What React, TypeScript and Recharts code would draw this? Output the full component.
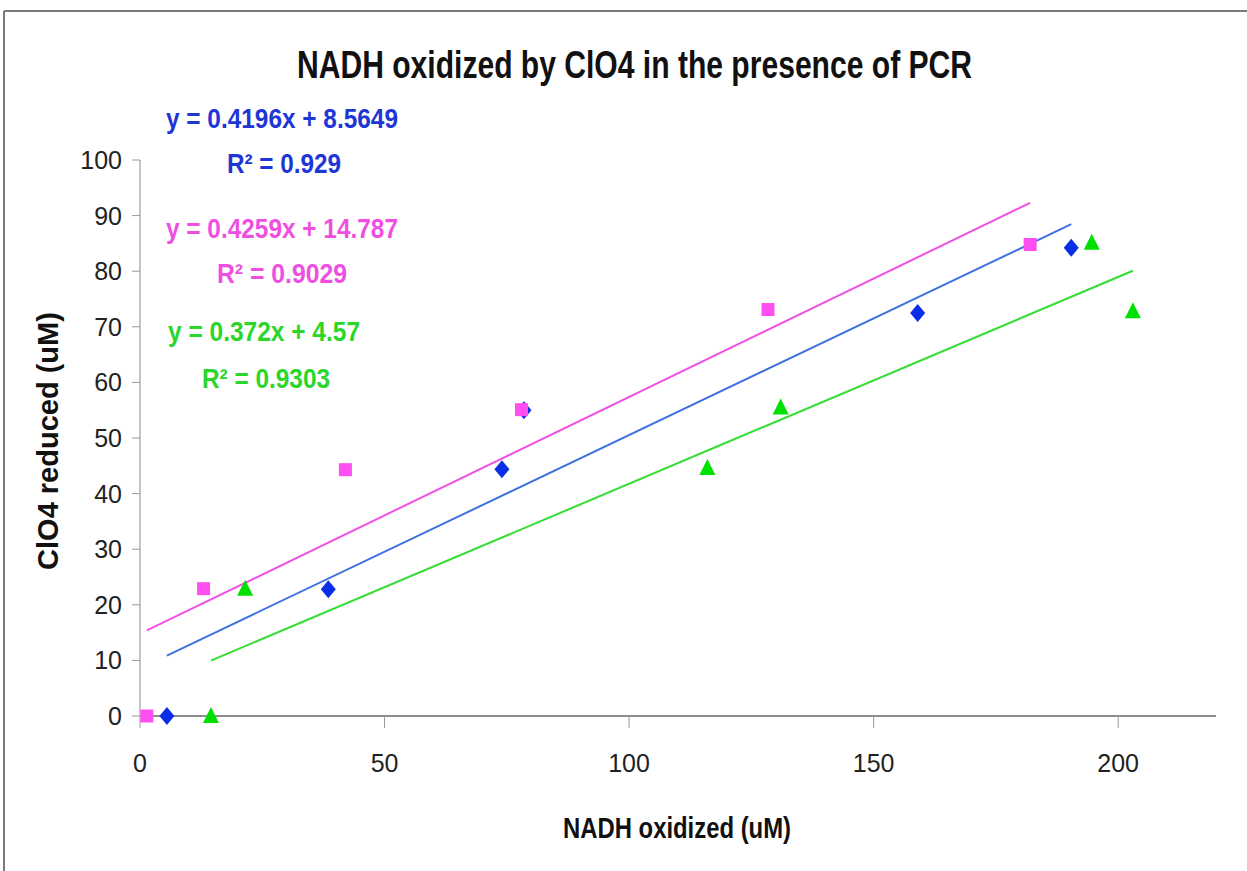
import React from 'react';
import { ScatterChart, Scatter, XAxis, YAxis } from 'recharts';

// ---- data ----
const blueX = [5.5, 38.5, 74, 78.5, 159, 190.4];
const blueY = [0, 22.8, 44.4, 55, 72.5, 84.2];
const pinkX = [1.4, 13, 42, 78, 128.4, 182];
const pinkY = [0, 22.9, 44.3, 55.1, 73.1, 84.8];
const greenX = [14.5, 21.5, 116, 131, 194.6, 203];
const greenY = [0, 22.9, 44.6, 55.5, 85.1, 72.8];

const slopes = { blue: 0.4196, pink: 0.4259, green: 0.372 };
const intercepts = { blue: 8.5649, pink: 14.787, green: 4.57 };

const xTicks = [0, 50, 100, 150, 200];
const yTicks = [0, 10, 20, 30, 40, 50, 60, 70, 80, 90, 100];

const title = 'NADH oxidized by ClO4 in the presence of PCR';
const xTitle = 'NADH oxidized (uM)';
const yTitle = 'ClO4 reduced (uM)';

const toPoints = (xs: number[], ys: number[]) => xs.map((x, i) => ({ x, y: ys[i] }));
const trend = (xs: number[], m: number, b: number) => {
  const lo = Math.min(...xs);
  const hi = Math.max(...xs);
  return [
    { x: lo, y: m * lo + b },
    { x: hi, y: m * hi + b },
  ];
};

const bluePts = toPoints(blueX, blueY);
const pinkPts = toPoints(pinkX, pinkY);
const greenPts = toPoints(greenX, greenY);
const blueTrend = trend(blueX, slopes.blue, intercepts.blue);
const pinkTrend = trend(pinkX, slopes.pink, intercepts.pink);
const greenTrend = trend(greenX, slopes.green, intercepts.green);

const Diamond = (p: any) => (
  <polygon
    points={`${p.cx},${p.cy - 9} ${p.cx + 7.5},${p.cy} ${p.cx},${p.cy + 9} ${p.cx - 7.5},${p.cy}`}
    fill="#0a2ee6"
  />
);
const Square = (p: any) => (
  <rect x={p.cx - 6.5} y={p.cy - 6.5} width={13} height={13} fill="#ff4ff0" />
);
const Triangle = (p: any) => (
  <polygon
    points={`${p.cx},${p.cy - 9} ${p.cx + 8},${p.cy + 7} ${p.cx - 8},${p.cy + 7}`}
    fill="#00e000"
  />
);
const NoDot = () => <g />;

const font = '"Liberation Sans", Arial, sans-serif';

const XTick = (p: any) => (
  <text x={p.x} y={p.y} dy={18} textAnchor="middle" fontFamily={font} fontSize={25} fill="#222">
    {p.payload.value}
  </text>
);
const YTick = (p: any) => (
  <text x={p.x} y={p.y} dy={9} textAnchor="end" fontFamily={font} fontSize={25} fill="#222">
    {p.payload.value}
  </text>
);

const Eq = ({ x, y, len, color, children }: any) => (
  <text
    x={x}
    y={y}
    fontFamily={font}
    fontWeight="bold"
    fontSize={28}
    fill={color}
    textLength={len}
    lengthAdjust="spacingAndGlyphs"
  >
    {children}
  </text>
);

export default function App() {
  return (
    <div style={{ position: 'absolute', left: 0, top: 0, width: 1247, height: 871, background: '#fff' }}>
      <ScatterChart
        width={1247}
        height={871}
        margin={{ top: 160, right: 31, bottom: 95, left: 60 }}
      >
        <XAxis
          type="number"
          dataKey="x"
          domain={[0, 220]}
          ticks={xTicks}
          height={60}
          tickSize={12}
          tickMargin={26}
          axisLine={{ stroke: '#8c8c8c', strokeWidth: 2 }}
          tickLine={{ stroke: '#9a9a9a', strokeWidth: 1 }}
          tick={<XTick />}
        />
        <YAxis
          type="number"
          dataKey="y"
          domain={[0, 100]}
          ticks={yTicks}
          width={80}
          tickSize={8}
          tickMargin={10}
          axisLine={{ stroke: '#c4c4c4', strokeWidth: 2 }}
          tickLine={{ stroke: '#9a9a9a', strokeWidth: 1 }}
          tick={<YTick />}
        />
        <Scatter data={pinkTrend} line={{ stroke: '#f050e4', strokeWidth: 2 }} shape={NoDot} isAnimationActive={false} />
        <Scatter data={blueTrend} line={{ stroke: '#3f72e0', strokeWidth: 2 }} shape={NoDot} isAnimationActive={false} />
        <Scatter data={greenTrend} line={{ stroke: '#33dd33', strokeWidth: 2 }} shape={NoDot} isAnimationActive={false} />
        <Scatter data={bluePts} shape={Diamond} isAnimationActive={false} />
        <Scatter data={greenPts} shape={Triangle} isAnimationActive={false} />
        <Scatter data={pinkPts} shape={Square} isAnimationActive={false} />
      </ScatterChart>
      <svg
        width={1247}
        height={871}
        style={{ position: 'absolute', left: 0, top: 0, pointerEvents: 'none' }}
      >
        <line x1={4} y1={11} x2={1247} y2={11} stroke="#7a7a7a" strokeWidth={2} />
        <line x1={4} y1={11} x2={4} y2={871} stroke="#7a7a7a" strokeWidth={2} />
        <text
          x={297}
          y={78}
          fontFamily={font}
          fontWeight="bold"
          fontSize={39}
          fill="#111"
          textLength={675}
          lengthAdjust="spacingAndGlyphs"
        >
          {title}
        </text>
        <text
          x={563}
          y={838}
          fontFamily={font}
          fontWeight="bold"
          fontSize={29}
          fill="#111"
          textLength={228}
          lengthAdjust="spacingAndGlyphs"
        >
          {xTitle}
        </text>
        <text
          transform="translate(58, 441) rotate(-90)"
          textAnchor="middle"
          fontFamily={font}
          fontWeight="bold"
          fontSize={29}
          fill="#111"
        >
          {yTitle}
        </text>
        <Eq x={166} y={128} len={232} color="#1f36d6">y = 0.4196x + 8.5649</Eq>
        <Eq x={227} y={173} len={114} color="#1f36d6">R² = 0.929</Eq>
        <Eq x={166} y={238} len={232} color="#ef4fe0">y = 0.4259x + 14.787</Eq>
        <Eq x={217} y={283} len={130} color="#ef4fe0">R² = 0.9029</Eq>
        <Eq x={168} y={341} len={192} color="#2bd62b">y = 0.372x + 4.57</Eq>
        <Eq x={202} y={388} len={128} color="#2bd62b">R² = 0.9303</Eq>
      </svg>
    </div>
  );
}
